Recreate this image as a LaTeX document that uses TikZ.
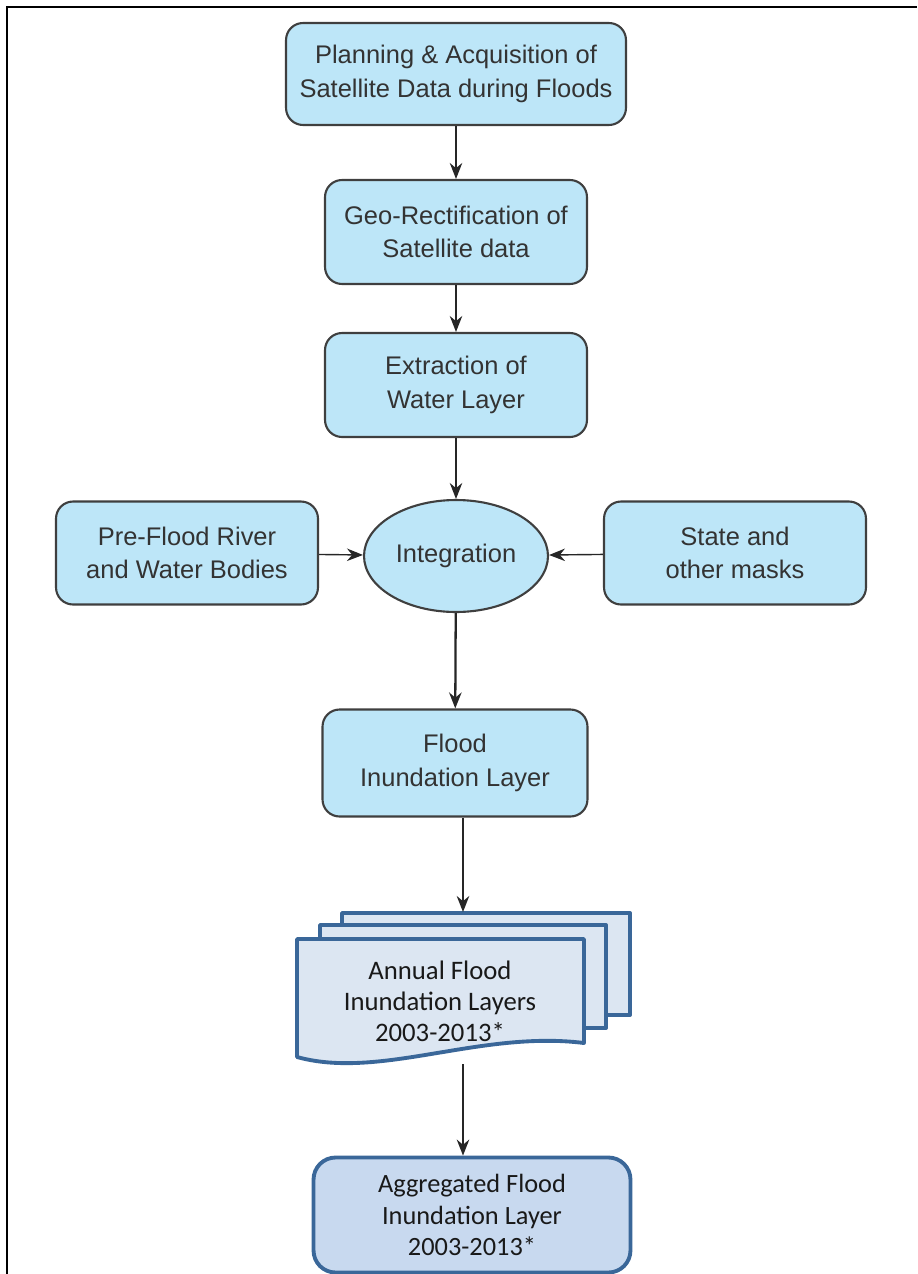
\documentclass[tikz,border=0pt]{standalone}
\usepackage{fontspec}
\setmainfont{Liberation Sans}
\newfontfamily\calibrifont{Carlito}
\usetikzlibrary{shapes.geometric,arrows.meta}
\definecolor{boxblue}{HTML}{BDE6F8}
\definecolor{boxedge}{HTML}{3F3F3F}
\definecolor{docfill}{HTML}{DCE6F2}
\definecolor{docedge}{HTML}{3A6799}
\definecolor{aggfill}{HTML}{C8D9EF}

\begin{document}
\begin{tikzpicture}[x=0.02cm,y=-0.02cm,
    stepbox/.style={draw=boxedge,fill=boxblue,line width=1.2pt,rounded corners=0.34cm,
      align=center,text=black!80,font=\fontsize{14.5}{19}\selectfont,inner sep=0pt},
    docsheet/.style={draw=docedge,fill=docfill,line width=2.2pt,line join=round},
    arr/.style={-{Stealth[length=0.32cm,width=0.25cm]},line width=0.8pt,draw=black!85}]
  \useasboundingbox (0,0) rectangle (917,1274);
  \draw[line width=0.05cm] (7,1274) -- (7,7) -- (917,7);

  % main chain
  \node[stepbox,minimum width=6.8cm,minimum height=2.04cm] (plan) at (456,74)
    {Planning \& Acquisition of\\Satellite Data during Floods};
  \node[stepbox,minimum width=5.24cm,minimum height=2.08cm] (geo) at (456,232)
    {Geo-Rectification of\\Satellite data};
  \node[stepbox,minimum width=5.24cm,minimum height=2.08cm] (extract) at (456,385)
    {Extraction of\\Water Layer};
  \node[stepbox,ellipse,minimum width=3.68cm,minimum height=2.24cm] (integ) at (456,556)
    {Integration};
  \node[stepbox,minimum width=5.24cm,minimum height=2.06cm] (preflood) at (187,553)
    {Pre-Flood River\\and Water Bodies};
  \node[stepbox,minimum width=5.24cm,minimum height=2.06cm] (masks) at (735,553)
    {State and\\other masks};
  \node[stepbox,minimum width=5.3cm,minimum height=2.14cm] (flood) at (455,763)
    {Flood\\Inundation Layer};

  % stack of annual layers
  \draw[docsheet] (342,913) rectangle (630,1015);
  \draw[docsheet] (320,925) rectangle (606,1028);
  \draw[docsheet] (297,939) -- (584,939) -- (584,1043)
    .. controls (480,1030) and (380,1080) .. (297,1057) -- cycle;
  \node[align=center,text=black!90,font=\calibrifont\fontsize{15.2}{17.6}\selectfont] (annual) at (440,1001)
    {Annual Flood\\Inundation Layers\\2003-2013*};

  \node[draw=docedge,fill=aggfill,line width=2.2pt,rounded corners=0.44cm,
    minimum width=6.34cm,minimum height=2.3cm,align=center,text=black!90,
    font=\calibrifont\fontsize{15}{18}\selectfont] (agg) at (472,1215)
    {Aggregated Flood\\Inundation Layer\\2003-2013*};

  % connectors
  \draw[arr] (plan) -- (geo);
  \draw[arr] (geo) -- (extract);
  \draw[arr] (extract) -- (integ);
  \draw[arr] (preflood) -- (integ);
  \draw[arr] (masks) -- (integ);
  \draw[arr,line width=1.3pt] (integ) -- (flood);
  \coordinate (stacktop) at (463,912);
  \coordinate (stackfoot) at (463,1064);
  \draw[arr,line width=1.1pt] (flood.south -| stacktop) -- (stacktop);
  \draw[arr,line width=1.1pt] (stackfoot) -- (stackfoot |- agg.north);
\end{tikzpicture}
\end{document}
